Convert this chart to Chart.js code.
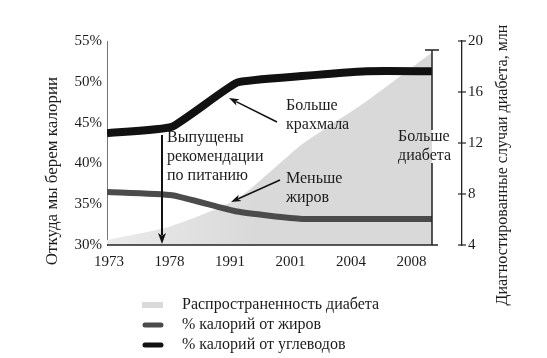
<!DOCTYPE html>
<html><head><meta charset="utf-8">
<script src="https://cdn.jsdelivr.net/npm/chart.js@4/dist/chart.umd.min.js"></script>
<style>html,body{margin:0;padding:0;background:#fff}canvas{display:block}</style>
</head><body>
<canvas id="c" width="547" height="358"></canvas>
<script>
// ---- data ----
const years = ['1973', '1978', '1991', '2001', '2004', '2008'];
const diabetesMln = [4.4, 5.5, 7.6, 11.9, 15.3, 19.1];
const fatPct = [36.5, 36.1, 34.1, 33.2, 33.2, 33.2];
const carbPct = [43.7, 44.5, 49.9, 50.7, 51.3, 51.3];
const leftTicks = [30, 35, 40, 45, 50, 55];
const rightTicks = [4, 8, 12, 16, 20];
const seriesNames = ['Распространенность диабета', '% калорий от жиров', '% калорий от углеводов'];
const leftTitle = 'Откуда мы берем калории';
const rightTitle = 'Диагностированные случаи диабета, млн';

const SERIF = '"Liberation Serif", "DejaVu Serif", serif';
const TXT = '#1c1c1c';

function pts(arr) { return arr.map((v, i) => ({ x: i, y: v })); }

const decor = {
  id: 'decor',
  afterDraw(chart) {
    const ctx = chart.ctx;
    const xd = chart.scales.xd, y2 = chart.scales.y2, y = chart.scales.y;
    const ca = chart.chartArea;
    ctx.save();
    ctx.strokeStyle = '#222';
    ctx.fillStyle = '#111';
    // bottom axis line
    const xEnd = xd.getPixelForValue(5);
    ctx.lineWidth = 1.5;
    ctx.beginPath(); ctx.moveTo(ca.left, ca.bottom); ctx.lineTo(xEnd + 6, ca.bottom); ctx.stroke();
    // "more diabetes" bar
    ctx.lineWidth = 1.5;
    ctx.beginPath();
    ctx.moveTo(xEnd, 50); ctx.lineTo(xEnd, 130);
    ctx.moveTo(xEnd, 163); ctx.lineTo(xEnd, ca.bottom);
    ctx.moveTo(xEnd - 7, 50); ctx.lineTo(xEnd + 7, 50);
    ctx.stroke();
    // right axis tick marks crossing the axis
    ctx.lineWidth = 1.2;
    rightTicks.forEach(v => {
      const p = y2.getPixelForValue(v);
      ctx.beginPath(); ctx.moveTo(ca.right - 4, p); ctx.lineTo(ca.right + 4, p); ctx.stroke();
    });
    // arrows
    function arrow(x1, y1, x2, y2_, lw, hl, hw) {
      const a = Math.atan2(y2_ - y1, x2 - x1);
      ctx.lineWidth = lw;
      ctx.beginPath(); ctx.moveTo(x1, y1);
      ctx.lineTo(x2 - Math.cos(a) * hl * 0.8, y2_ - Math.sin(a) * hl * 0.8); ctx.stroke();
      ctx.beginPath();
      ctx.moveTo(x2, y2_);
      ctx.lineTo(x2 - Math.cos(a) * hl + Math.sin(a) * hw / 2, y2_ - Math.sin(a) * hl - Math.cos(a) * hw / 2);
      ctx.lineTo(x2 - Math.cos(a) * hl * 0.75, y2_ - Math.sin(a) * hl * 0.75);
      ctx.lineTo(x2 - Math.cos(a) * hl - Math.sin(a) * hw / 2, y2_ - Math.sin(a) * hl + Math.cos(a) * hw / 2);
      ctx.closePath(); ctx.fill();
    }
    ctx.strokeStyle = '#111';
    arrow(162, 135, 162, ca.bottom - 1, 2, 11, 8);
    arrow(277, 122, 229, 98, 1.5, 10, 7);
    arrow(280, 180, 231, 202, 1.5, 10, 7);
    // annotation texts
    ctx.fillStyle = TXT;
    ctx.font = '16px ' + SERIF;
    ctx.textBaseline = 'middle';
    ctx.textAlign = 'left';
    ctx.fillText('Выпущены', 167, 138);
    ctx.fillText('рекомендации', 167, 157);
    ctx.fillText('по питанию', 167, 176);
    ctx.fillText('Больше', 286, 106);
    ctx.fillText('крахмала', 286, 125);
    ctx.fillText('Меньше', 286, 179);
    ctx.fillText('жиров', 286, 198);
    ctx.fillText('Больше', 398, 137);
    ctx.fillText('диабета', 398, 156);
    // axis titles (both read bottom-to-top)
    ctx.textAlign = 'center';
    ctx.save();
    ctx.translate(53, 171); ctx.rotate(-Math.PI / 2);
    ctx.font = '17px ' + SERIF;
    ctx.fillText(leftTitle, 0, 0);
    ctx.restore();
    ctx.save();
    ctx.translate(503, 165); ctx.rotate(-Math.PI / 2);
    ctx.font = '16px ' + SERIF;
    ctx.fillText(rightTitle, 0, 0);
    ctx.restore();
    // legend
    const ds = chart.data.datasets;
    const rows = [305, 325, 345];
    ctx.textAlign = 'left';
    ctx.font = '16px ' + SERIF;
    ds.forEach((d, i) => {
      const yy = rows[i];
      if (d.fill) {
        ctx.fillStyle = '#dadada';
        ctx.fillRect(142, yy - 3, 21, 6);
      } else {
        ctx.strokeStyle = d.borderColor;
        ctx.lineWidth = 5;
        ctx.lineCap = 'round';
        ctx.beginPath(); ctx.moveTo(145, yy); ctx.lineTo(161, yy); ctx.stroke();
        ctx.lineCap = 'butt';
      }
      ctx.fillStyle = TXT;
      ctx.fillText(d.label, 182, yy);
    });
    ctx.restore();
  }
};

new Chart(document.getElementById('c'), {
  type: 'line',
  data: {
    datasets: [
      {
        label: seriesNames[0], data: pts(diabetesMln), xAxisID: 'xd', yAxisID: 'y2',
        fill: 'start', borderWidth: 0, pointRadius: 0, tension: 0.2, order: 3,
        backgroundColor: (c) => {
          const a = c.chart.chartArea;
          if (!a) return '#dadada';
          const g = c.chart.ctx.createLinearGradient(a.left, 0, a.left + 150, 0);
          g.addColorStop(0, '#ebebeb');
          g.addColorStop(1, '#d9d9d9');
          return g;
        }
      },
      {
        label: seriesNames[1], data: pts(fatPct), xAxisID: 'xd', yAxisID: 'y',
        fill: false, borderColor: '#4b4b4b', borderWidth: 6, pointRadius: 0, tension: 0.15, order: 2
      },
      {
        label: seriesNames[2], data: pts(carbPct), xAxisID: 'xd', yAxisID: 'y',
        fill: false, borderColor: '#111111', borderWidth: 8, pointRadius: 0, tension: 0.12, order: 1
      }
    ]
  },
  options: {
    responsive: false,
    animation: false,
    devicePixelRatio: 1,
    layout: { padding: { top: 41, left: 0, right: 0, bottom: 0 } },
    plugins: { legend: { display: false }, tooltip: { enabled: false } },
    scales: {
      x: {
        type: 'linear', position: 'bottom',
        min: -2 / 60.5, max: -2 / 60.5 + 355 / 60.5,
        afterBuildTicks: s => { s.ticks = years.map((_, i) => ({ value: i })); },
        afterFit: s => { s.height = 113; },
        grid: { display: false, drawTicks: false },
        border: { display: false },
        ticks: { autoSkip: false, maxRotation: 0, padding: 8, color: TXT,
          font: { family: SERIF, size: 15 }, callback: (v, i) => years[i] }
      },
      xd: { type: 'linear', display: false, min: 0, max: 355 / 65 },
      y: {
        position: 'left', min: 30, max: 55, z: 1,
        afterBuildTicks: s => { s.ticks = leftTicks.map(v => ({ value: v })); },
        afterFit: s => { s.width = 107; },
        grid: { display: false, drawTicks: false },
        border: { display: true, color: '#777', width: 1 },
        ticks: { padding: 5, color: TXT, font: { family: SERIF, size: 15 }, callback: v => v + '%' }
      },
      y2: {
        position: 'right', min: 4, max: 20, z: 1,
        afterBuildTicks: s => { s.ticks = rightTicks.map(v => ({ value: v })); },
        afterFit: s => { s.width = 85; },
        grid: { display: false, drawTicks: false },
        border: { display: true, color: '#222', width: 1.3 },
        ticks: { padding: 6, color: TXT, font: { family: SERIF, size: 15 } }
      }
    }
  },
  plugins: [decor]
});
</script>
</body></html>
